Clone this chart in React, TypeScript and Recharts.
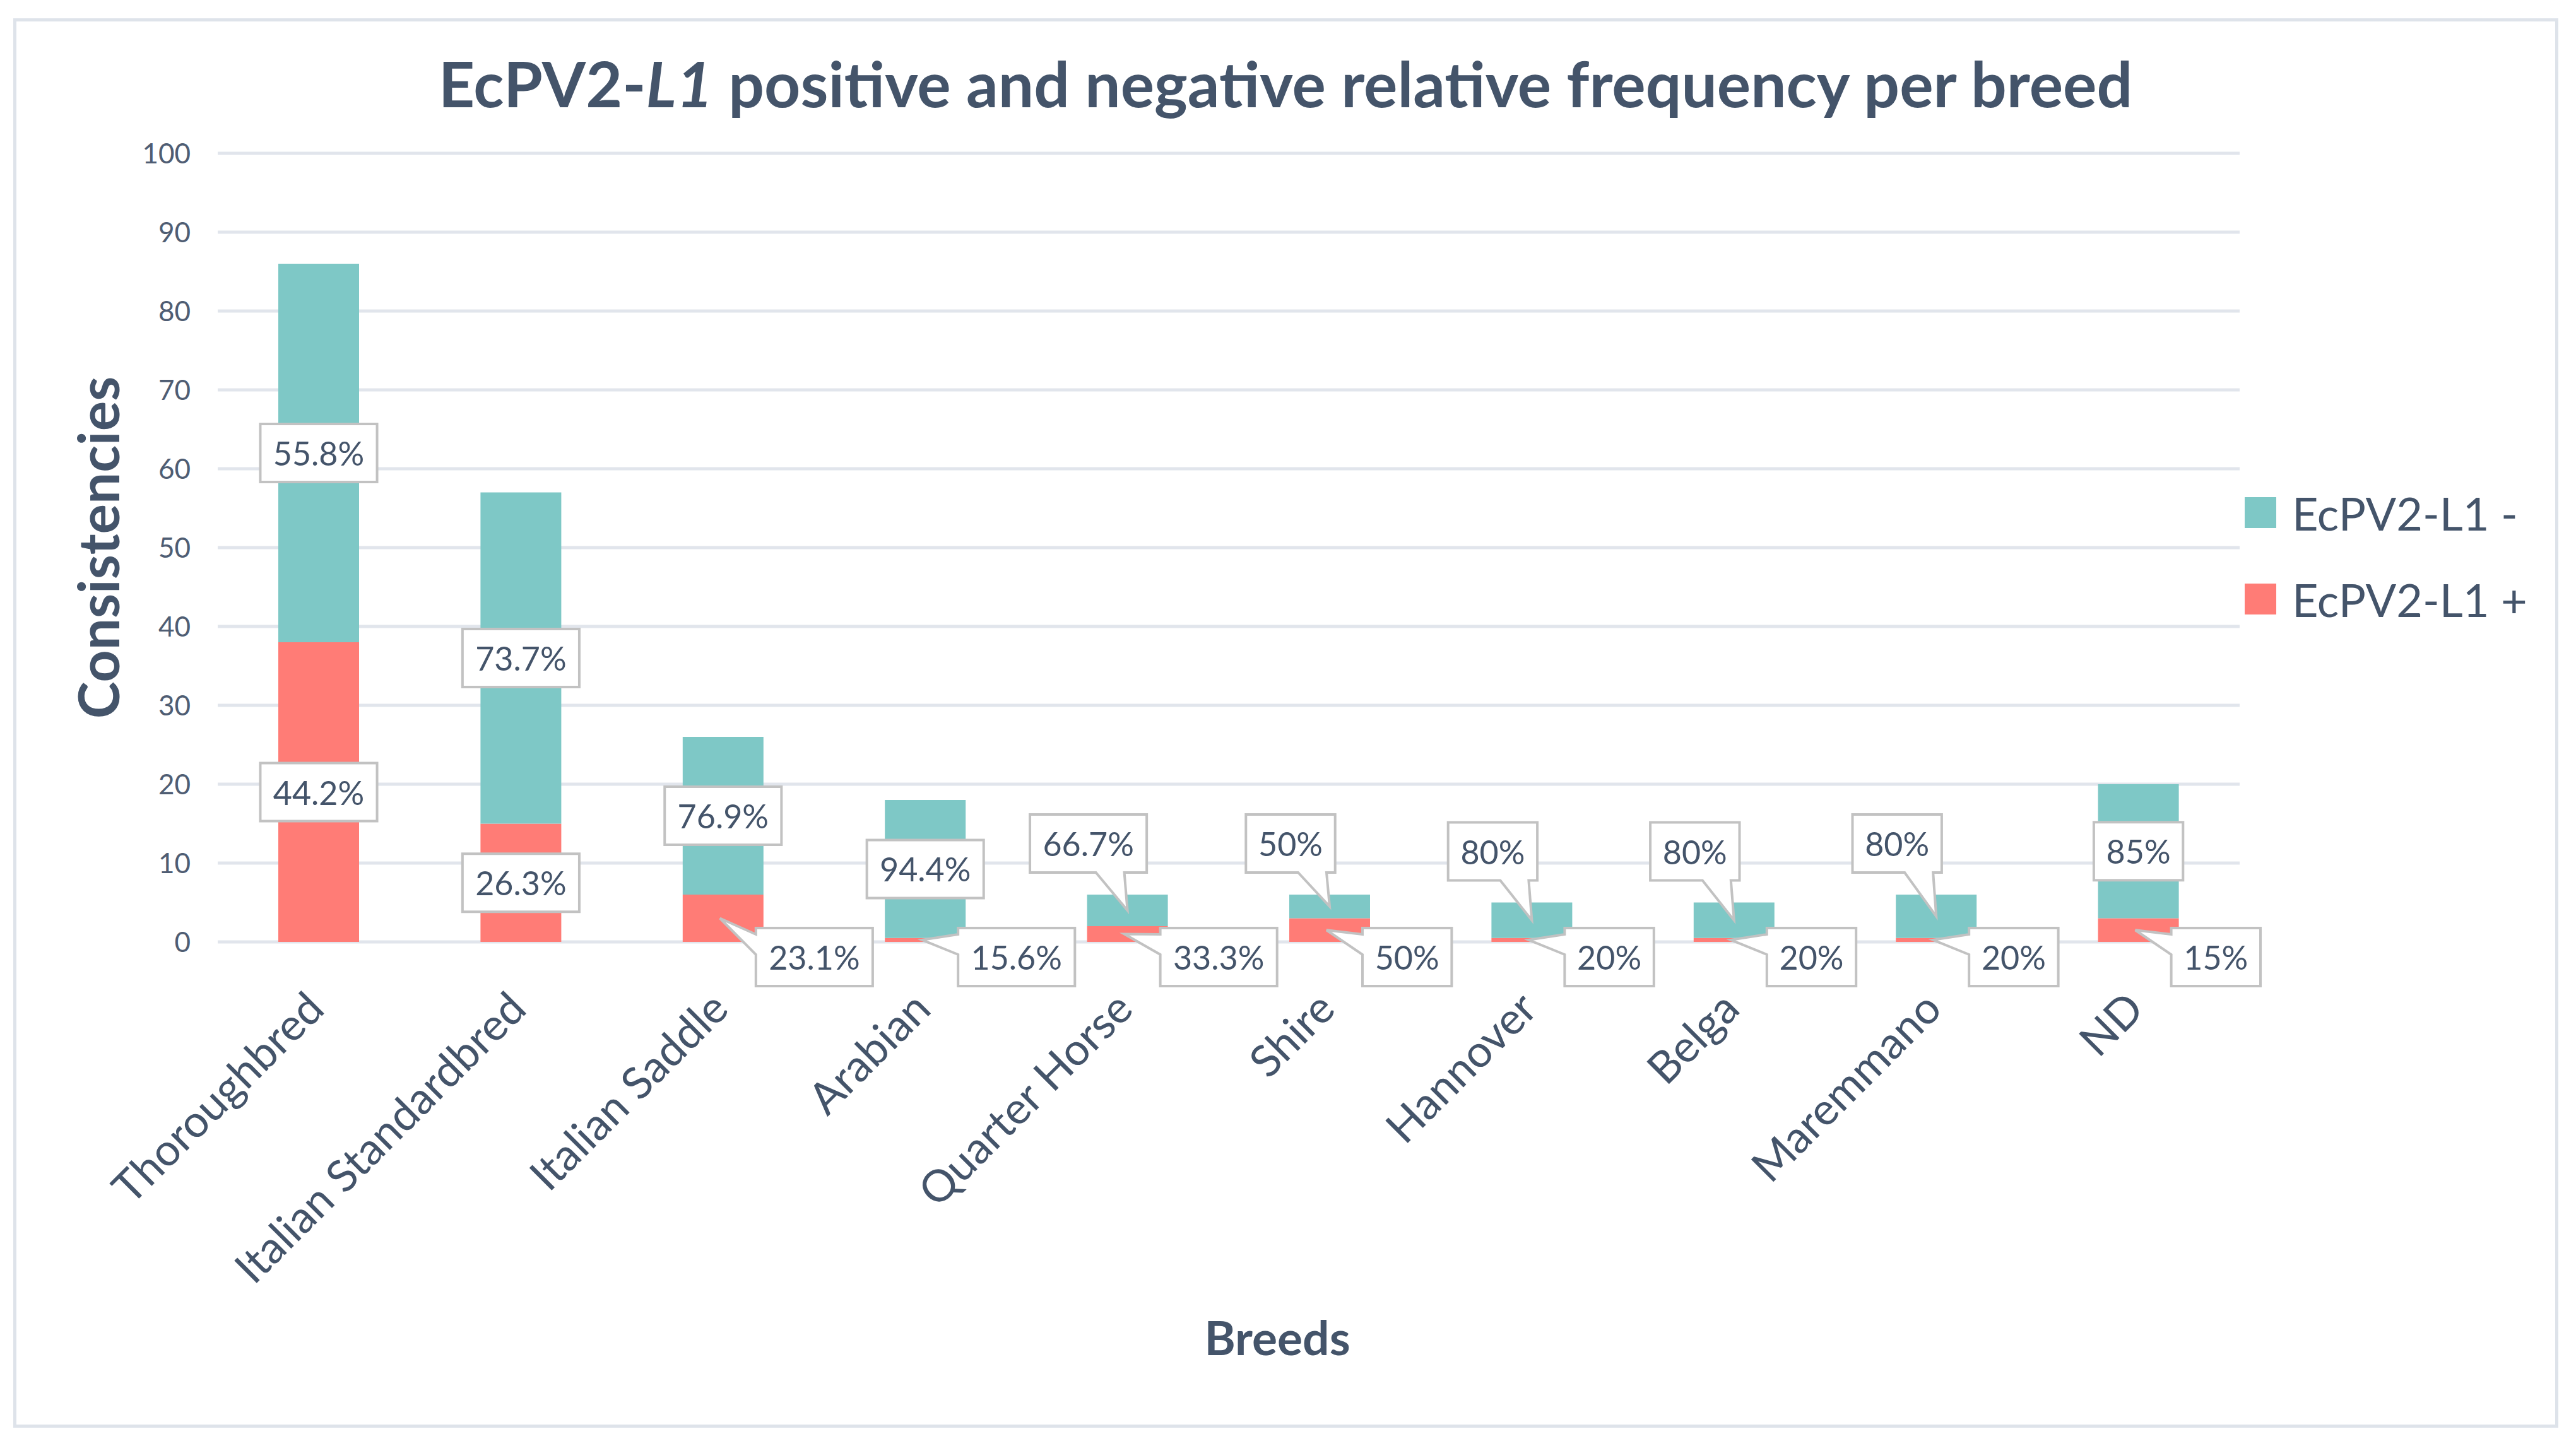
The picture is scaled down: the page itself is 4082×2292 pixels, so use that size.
import React from 'react';
import { BarChart, Bar, XAxis, YAxis, CartesianGrid, Legend, LabelList } from 'recharts';

const breeds = [
  'Thoroughbred',
  'Italian Standardbred',
  'Italian Saddle',
  'Arabian',
  'Quarter Horse',
  'Shire',
  'Hannover',
  'Belga',
  'Maremmano',
  'ND',
];
const positive = [38, 15, 6, 0.5, 2, 3, 0.5, 0.5, 0.5, 3];
const negative = [48, 42, 20, 17.5, 4, 3, 4.5, 4.5, 5.5, 17];
const positiveLabels = ['44.2%', '26.3%', '23.1%', '15.6%', '33.3%', '50%', '20%', '20%', '20%', '15%'];
const negativeLabels = ['55.8%', '73.7%', '76.9%', '94.4%', '66.7%', '50%', '80%', '80%', '80%', '85%'];
const yTicks = [0, 10, 20, 30, 40, 50, 60, 70, 80, 90, 100];

const data = breeds.map((name, i) => ({ name, pos: positive[i], neg: negative[i] }));

const TEXT = '#44546A';
const TEAL = '#7EC8C6';
const RED = '#FF7C76';
const BOX_STROKE = '#C2C2C2';
const FONT = 'Lato, "Open Sans", sans-serif';

// rough Lato advance widths at 52px
const labelWidth = (s: string) =>
  s.split('').reduce((w, ch) => w + (ch === '.' ? 13.5 : ch === '%' ? 43 : 30.2), 0);

const BOX_H = 92;

function makeLabel(labels: string[], kind: 'pos' | 'neg') {
  return (props: any) => {
    const vb = props.viewBox ?? props;
    const x = Number(vb.x);
    const y = Number(vb.y);
    const width = Number(vb.width);
    const height = Number(vb.height);
    const text = labels[props.index];
    if (text == null || isNaN(x)) return null;
    const cx = x + width / 2;
    const w = labelWidth(text) + 38;
    const h = BOX_H;
    let path: string;
    let tx: number;
    let ty: number;
    if (height >= 100) {
      // big enough segment: box sits in the middle
      const cy = y + height / 2;
      const l = cx - w / 2;
      const t = cy - h / 2;
      path = `M${l},${t}H${l + w}V${t + h}H${l}Z`;
      tx = cx;
      ty = cy;
    } else if (kind === 'neg') {
      // callout above-left, pointer down into the segment
      const bcx = cx - 62;
      const b = y - 35;
      const t = b - h;
      const l = bcx - w / 2;
      const r = bcx + w / 2;
      const tipX = cx;
      const tipY = y + height / 2;
      path = `M${l},${t}H${r}V${b}H${tipX - 5}L${tipX},${tipY}L${tipX - 50},${b}H${l}Z`;
      tx = bcx;
      ty = t + h / 2;
    } else {
      // callout below-right, pointer from the left edge
      const zeroY = y + height;
      const l = x + width - 12;
      const t = zeroY - 22;
      const r = l + w;
      const b = t + h;
      const tipX = cx - 5;
      const tipY = y + height / 2;
      path = `M${l},${t}H${r}V${b}H${l}V${t + 42}L${tipX},${tipY}L${l},${t + 10}Z`;
      tx = l + w / 2;
      ty = t + h / 2;
    }
    return (
      <g>
        <path d={path} fill="#ffffff" stroke={BOX_STROKE} strokeWidth={4} strokeLinejoin="miter" />
        <text
          x={tx}
          y={ty}
          textAnchor="middle"
          dominantBaseline="central"
          fontSize={52}
          fontFamily={FONT}
          fill={TEXT}
        >
          {text}
        </text>
      </g>
    );
  };
}

const BreedTick = (props: any) => {
  const { x, y, payload } = props;
  const ax = x + 12;
  const ay = y + 110;
  return (
    <text
      x={ax}
      y={ay}
      transform={`rotate(-45, ${ax}, ${ay})`}
      textAnchor="end"
      fontSize={70}
      fontFamily={FONT}
      fill={TEXT}
    >
      {payload.value}
    </text>
  );
};

const LegendContent = (props: any) => {
  const items = [...(props.payload || [])].reverse();
  return (
    <div style={{ fontFamily: FONT }}>
      {items.map((it: any) => (
        <div key={it.value} style={{ display: 'flex', alignItems: 'center', height: 137 }}>
          <div style={{ width: 50, height: 49, background: it.color, marginRight: 25 }} />
          <span style={{ fontSize: 72, color: TEXT, whiteSpace: 'nowrap' }}>{it.value}</span>
        </div>
      ))}
    </div>
  );
};

export default function App() {
  return (
    <div style={{ position: 'absolute', left: 0, top: 0, width: 4082, height: 2292, background: '#fff' }}>
      <div
        style={{
          position: 'absolute',
          left: 21,
          top: 29,
          width: 4033,
          height: 2234,
          border: '5px solid #DEE3EA',
          boxSizing: 'border-box',
        }}
      />
      <div style={{ position: 'absolute', left: 0, top: 0 }}>
        <BarChart
          width={4082}
          height={2292}
          data={data}
          margin={{ top: 243, right: 533, bottom: 499, left: 245 }}
          style={{ fontFamily: FONT }}
        >
          <CartesianGrid vertical={false} stroke="#E1E5EC" strokeWidth={5} />
          <XAxis
            dataKey="name"
            height={300}
            axisLine={false}
            tickLine={false}
            tickSize={0}
            tickMargin={0}
            interval={0}
            tick={<BreedTick />}
          />
          <YAxis
            width={100}
            domain={[0, 100]}
            ticks={yTicks}
            axisLine={false}
            tickLine={false}
            tickSize={0}
            tickMargin={43}
            tick={{ fontSize: 44, fill: '#4F5D73', fontFamily: FONT }}
          />
          <Legend
            layout="vertical"
            align="center"
            verticalAlign="middle"
            content={<LegendContent />}
            wrapperStyle={{ left: 3557, top: 744, width: 520 }}
          />
          <Bar dataKey="pos" name="EcPV2-L1 +" stackId="a" fill={RED} barSize={128} isAnimationActive={false}>
            <LabelList dataKey="pos" content={makeLabel(positiveLabels, 'pos')} />
          </Bar>
          <Bar dataKey="neg" name="EcPV2-L1 -" stackId="a" fill={TEAL} barSize={128} isAnimationActive={false}>
            <LabelList dataKey="neg" content={makeLabel(negativeLabels, 'neg')} />
          </Bar>
        </BarChart>
      </div>
      <svg
        width={4082}
        height={2292}
        style={{ position: 'absolute', left: 0, top: 0, pointerEvents: 'none' }}
      >
        <text x={2037} y={170} textAnchor="middle" fontSize={100} fontWeight={700} fontFamily={FONT} fill={TEXT}>
          EcPV2-<tspan fontStyle="italic">L1</tspan> positive and negative relative frequency per breed
        </text>
        <text
          transform="translate(189, 868) rotate(-90)"
          textAnchor="middle"
          fontSize={89}
          fontWeight={700}
          fontFamily={FONT}
          fill={TEXT}
        >
          Consistencies
        </text>
        <text x={2024} y={2148} textAnchor="middle" fontSize={75} fontWeight={700} fontFamily={FONT} fill={TEXT}>
          Breeds
        </text>
      </svg>
    </div>
  );
}
